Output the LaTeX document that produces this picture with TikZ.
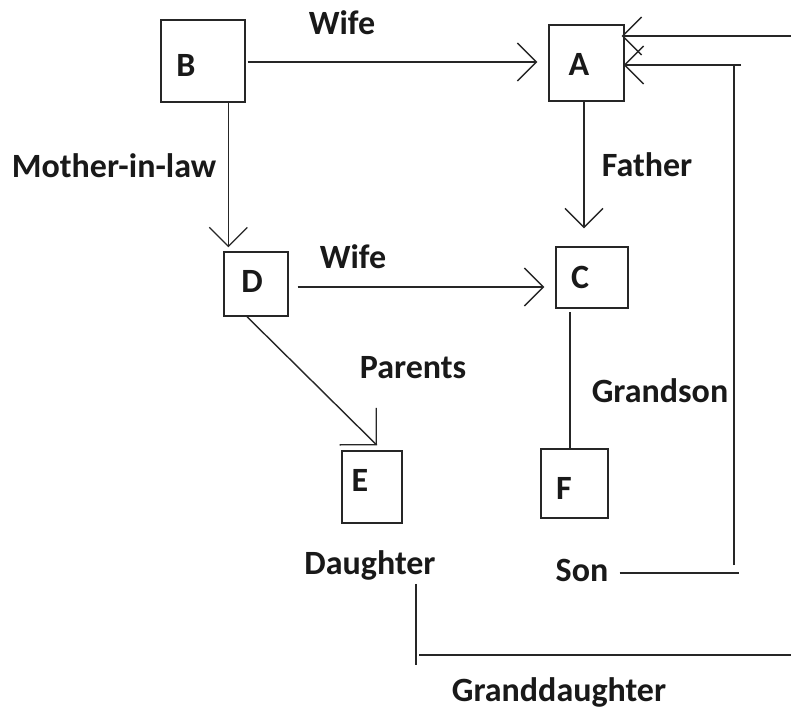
\documentclass[tikz,border=0pt]{standalone}
\usepackage{fontspec}
\setmainfont{Carlito}
\usetikzlibrary{arrows.meta}
\begin{document}
\begin{tikzpicture}[x=1pt,y=-1pt,
  box/.style={draw=black!85, line width=1.4pt, inner sep=0pt},
  let/.style={font=\fontsize{34}{40}\selectfont\bfseries, inner sep=0pt, text=black!90},
  txt/.style={font=\fontsize{34}{40}\selectfont\bfseries, inner sep=0pt, text=black!90, anchor=base},
  link/.style={draw=black!85, line width=1.4pt},
  arr/.style={link, -{Straight Barb[length=19pt,width=38pt,line width=1.3pt]}},
  arrbig/.style={link, -{Straight Barb[length=26pt,width=52pt,line width=1.3pt]}},
]
\fill[white] (0,0) rectangle (791,711);
\useasboundingbox (0,0) rectangle (791,711);

% boxes
\node[box, minimum width=84pt, minimum height=82pt, label={[let, xshift=-17pt, yshift=-4pt]center:B}] (B) at (203,61) {};
\node[box, minimum width=75pt, minimum height=76pt, label={[let, xshift=-7.5pt, yshift=-1pt]center:A}] (A) at (586.5,63) {};
\node[box, minimum width=72pt, minimum height=61pt, label={[let, xshift=-12pt, yshift=0pt]center:C}] (C) at (592,277.5) {};
\node[box, minimum width=64pt, minimum height=64pt, label={[let, xshift=-4pt, yshift=3pt]center:D}] (D) at (256,284) {};
\node[box, minimum width=60pt, minimum height=72pt, label={[let, xshift=-12pt, yshift=7pt]center:E}] (E) at (372,487) {};
\node[box, minimum width=67pt, minimum height=69pt, label={[let, xshift=-10.5pt, yshift=-5pt]center:F}] (F) at (574.5,483.5) {};

% text labels
\node[txt] (wife1) at (342,35) {Wife};
\node[txt] (mil) at (114,178) {Mother-in-law};
\node[txt] (father) at (647,177) {Father};
\node[txt] (wife2) at (353,268) {Wife};
\node[txt] (parents) at (413,378) {Parents};
\node[txt] (grandson) at (660,402) {Grandson};
\node[txt] (Daughter) at (370,574) {Daughter};
\node[txt] (Son) at (582,581) {Son};
\node[txt] (gd) at (559,701) {Granddaughter};

% helper coordinates
\coordinate (bd) at ([xshift=5pt]D.north west);
\coordinate (ac) at ([xshift=-2.5pt]A.south);
\coordinate (dc) at ([yshift=-3pt]D.east);
\coordinate (cf) at ([xshift=-4.5pt]F.north);
\coordinate (sonend) at (739,573);
\coordinate (vbot) at (734,565);
\coordinate (hstart) at (741,65);
\coordinate (dv) at (416,665);
\coordinate (hs) at (419,655);
\coordinate (hend) at (791,655);
\coordinate (tstart) at (791,36);

% connectors
\draw[arr, shorten <=2pt, shorten >=11pt] ([yshift=-1pt]B.east) -- ([yshift=-1pt]B.east -| A.west);
\draw[arr, shorten >=4pt] (bd |- B.south) -- (bd);
\draw[arr, shorten >=18pt] (ac) -- (ac |- C.north);
\draw[arr, shorten <=9pt, shorten >=11pt] (dc) -- (dc -| C.west);
\draw[arrbig] ([xshift=-9pt]D.south) -- ([xshift=5pt,yshift=5pt]E.north);
\draw[link, shorten >=3pt] (cf) -- (cf |- C.south);
\draw[link, shorten <=11pt] (Son.east |- sonend) -- (sonend);
\draw[link] (vbot) -- (vbot |- hstart);
\draw[arr, shorten >=-1pt] (hstart) -- (hstart -| A.east);
\draw[link, shorten <=4pt] (Daughter.south -| dv) -- (dv);
\draw[link] (hs) -- (hend);
\draw[arr, shorten >=-3pt] (tstart) -- (tstart -| A.east);
\end{tikzpicture}
\end{document}
